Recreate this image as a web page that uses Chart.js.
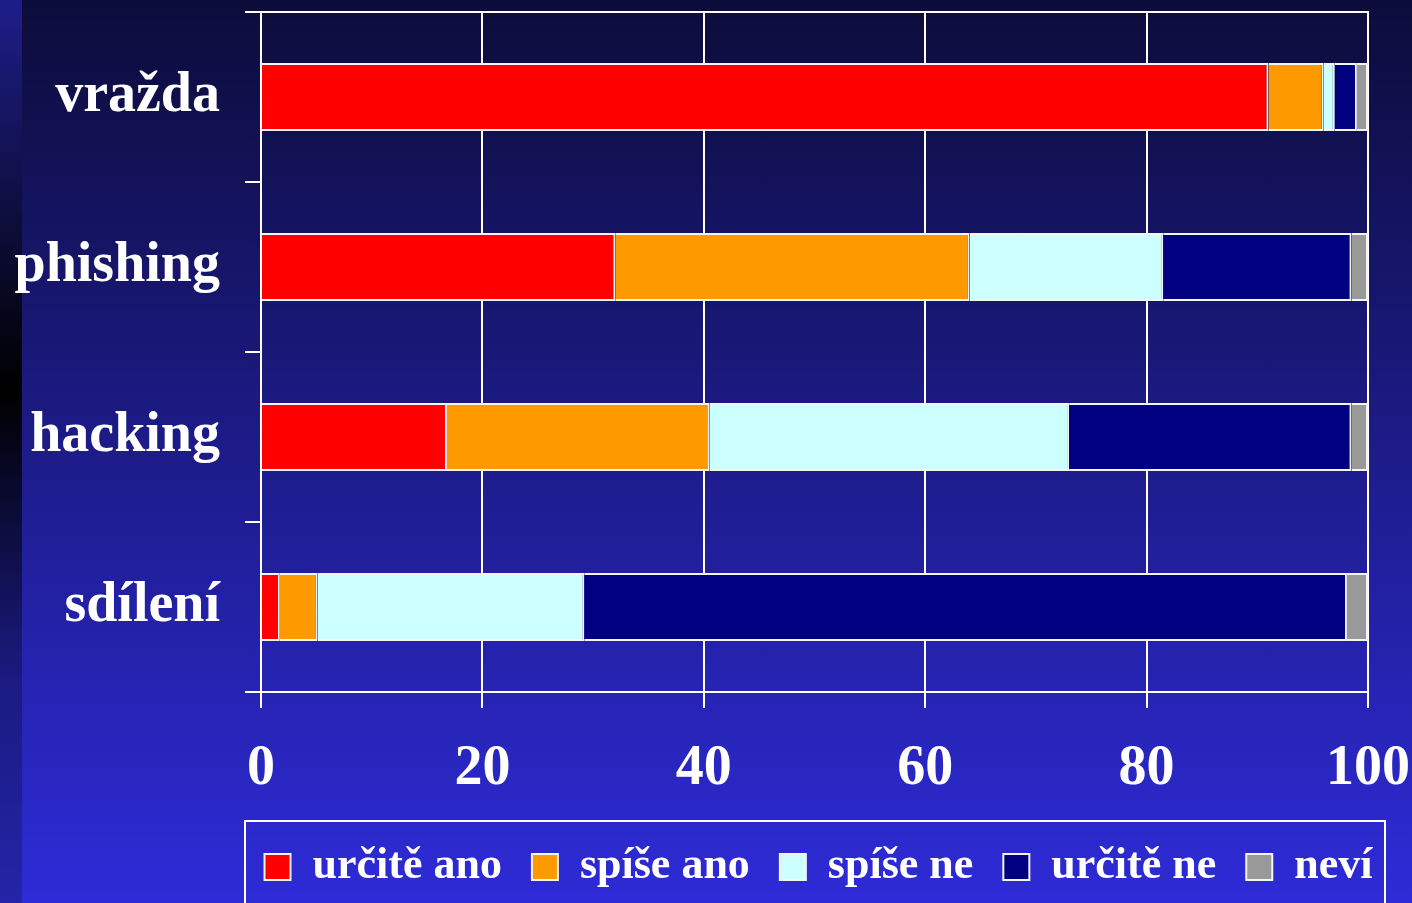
<!DOCTYPE html>
<html>
<head>
<meta charset="utf-8">
<script src="https://cdn.jsdelivr.net/npm/chart.js@4"></script>
<style>
    html, body { margin: 0; padding: 0; overflow: hidden; }
    body {
        width: 1412px; height: 903px; position: relative;
        background: linear-gradient(to bottom, #0c0c3a 0%, #2e2bd8 100%);
    }
    #strip {
        position: absolute; left: 0; top: 0; width: 22px; height: 903px;
        background: linear-gradient(to bottom, #1e1e8a 0%, #000000 43%, #1a1a80 75%, #2424a8 100%);
    }
    #wrap { position: absolute; left: 0; top: 0; width: 1412px; height: 903px; }
</style>
</head>
<body>
<div id="strip"></div>
<div id="wrap"><canvas id="chart"></canvas></div>
<script>
const categories = ['vražda', 'phishing', 'hacking', 'sdílení'];
const seriesNames = ['určitě ano', 'spíše ano', 'spíše ne', 'určitě ne', 'neví'];
const urciteAno = [91, 32, 16.8, 1.7];
const spiseAno = [5, 32, 23.7, 3.4];
const spiseNe = [1, 17.5, 32.5, 24.1];
const urciteNe = [2, 17, 25.5, 68.9];
const nevi = [1, 1.5, 1.5, 1.9];
const xTicks = [0, 20, 40, 60, 80, 100];

const colors = ['#ff0000', '#ff9900', '#ccffff', '#000080', '#999999'];
const values = [urciteAno, spiseAno, spiseNe, urciteNe, nevi];

const serif = '"Liberation Serif", "Times New Roman", serif';

// move legend row under the plot, draw top frame line and legend box
const framePlugin = {
    id: 'frame',
    afterLayout(chart) {
        const a = chart.chartArea;
        const lg = chart.legend;
        const shift = (a.left + a.right) / 2 + 4 - (lg.left + lg.right) / 2;
        lg.left += shift;
        lg.right += shift;
    },
    afterDraw(chart) {
        const ctx = chart.ctx;
        const a = chart.chartArea;
        ctx.save();
        ctx.strokeStyle = '#ffffff';
        ctx.lineWidth = 2;
        ctx.beginPath();
        ctx.moveTo(a.left - 16, a.top);
        ctx.lineTo(a.right + 1, a.top);
        ctx.stroke();
        const lg = chart.legend;
        ctx.strokeRect(a.left - 16, lg.top + 6, (a.right + 17) - (a.left - 16), 200);
        ctx.restore();
    }
};

new Chart(document.getElementById('chart'), {
    type: 'bar',
    data: {
        labels: categories,
        datasets: seriesNames.map((name, i) => ({
            label: name,
            data: values[i],
            backgroundColor: colors[i],
            borderColor: '#f4f4f4',
            borderWidth: 2,
            borderSkipped: 'start',
            barPercentage: 0.4,
            categoryPercentage: 1
        }))
    },
    options: {
        indexAxis: 'y',
        responsive: true,
        maintainAspectRatio: false,
        animation: false,
        layout: { padding: { top: 12, right: 44, left: 0, bottom: 4 } },
        plugins: {
            tooltip: { enabled: false },
            legend: {
                position: 'bottom',
                labels: {
                    color: '#ffffff',
                    font: { family: serif, size: 44, weight: 'bold' },
                    boxWidth: 26,
                    boxHeight: 26,
                    padding: 30
                }
            }
        },
        scales: {
            x: {
                stacked: true,
                min: 0,
                max: 100,
                afterBuildTicks: (scale) => { scale.ticks = xTicks.map(v => ({value: v})); },
                afterFit: (scale) => {
                    scale.height = 123;
                    scale.paddingLeft = 0;
                    scale.paddingRight = 0;
                },
                grid: { color: '#ffffff', lineWidth: 2, tickLength: 16 },
                border: { color: '#ffffff', width: 2 },
                ticks: {
                    color: '#ffffff',
                    padding: 28,
                    maxRotation: 0,
                    font: { family: serif, size: 56, weight: 'bold' }
                }
            },
            y: {
                stacked: true,
                afterFit: (scale) => {
                    scale.width = 261;
                    scale.paddingTop = 0;
                    scale.paddingBottom = 0;
                },
                grid: { color: '#ffffff', lineWidth: 2, tickLength: 16, drawOnChartArea: false, offset: true },
                border: { color: '#ffffff', width: 2 },
                ticks: {
                    color: '#ffffff',
                    padding: 25,
                    font: { family: serif, size: 56, weight: 'bold' }
                }
            }
        }
    },
    plugins: [framePlugin]
});
</script>
</body>
</html>
